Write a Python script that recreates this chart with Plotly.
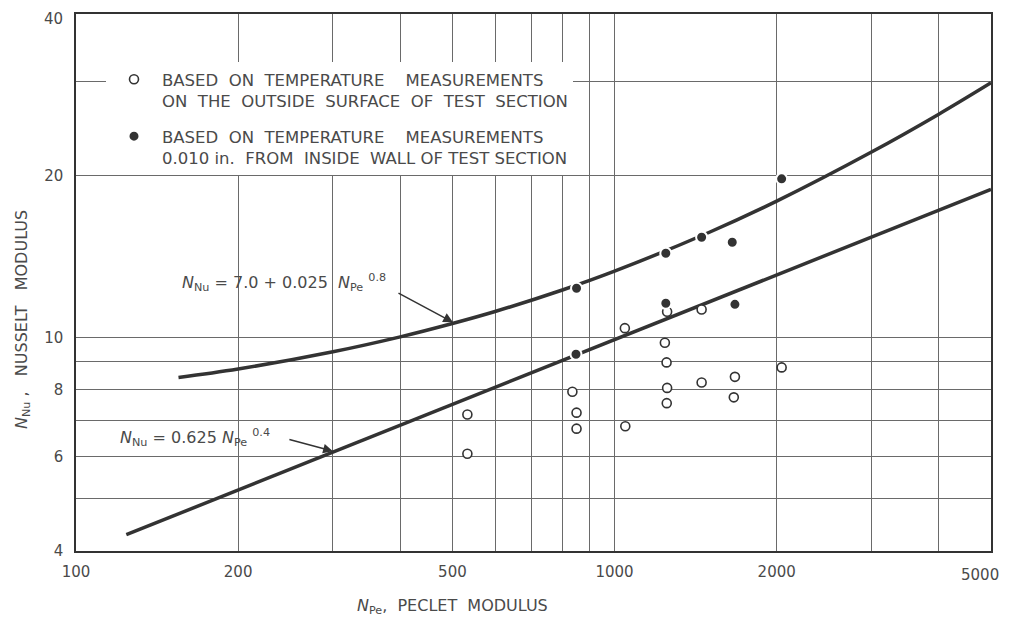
import plotly.graph_objects as go

# ---- data ----
# open circles: based on outside-surface temperature measurements
open_pe = [533, 533, 835, 850, 850, 1045, 1047, 1240, 1249, 1252, 1250, 1252, 1451, 1451, 1673, 1665, 2043]
open_nu = [7.18, 6.07, 7.92, 7.24, 6.76, 10.4, 6.83, 9.77, 8.98, 8.05, 7.54, 11.16, 11.27, 8.24, 8.44, 7.73, 8.79]

# filled circles: 0.010 in. from inside wall
fill_pe = [850, 848, 1245, 1245, 1451, 1654, 1673, 2043]
fill_nu = [12.34, 9.30, 14.34, 11.57, 15.36, 15.03, 11.52, 19.73]

# curve N_Nu = 7.0 + 0.025 N_Pe^0.8
upper_pe = [155, 200, 300, 400, 500, 600, 800, 1000, 1500, 2000, 3000, 4000, 5000]
upper_nu = [8.42, 8.73, 9.40, 10.02, 10.61, 11.17, 12.25, 13.28, 15.69, 17.93, 22.13, 26.03, 29.78]

# curve N_Nu = 0.625 N_Pe^0.4 (straight line on log-log paper)
lower_pe = [124, 1000, 5000]
lower_nu = [4.29, 9.91, 18.86]

x_grid = [100, 200, 300, 400, 500, 600, 700, 800, 900, 1000, 2000, 3000, 4000, 5000]
x_text = ["100", "200", "", "", "500", "", "", "", "", "1000", "2000", "", "", ""]
x_last_label = "5000"
y_grid = [4, 5, 6, 7, 8, 9, 10, 20, 30, 40]
y_text = ["4", "", "6", "", "8", "", "10", "20", "", ""]
y_top_label = "40"

legend_open = "BASED  ON  TEMPERATURE    MEASUREMENTS<br>ON  THE  OUTSIDE  SURFACE  OF  TEST  SECTION"
legend_fill = "BASED  ON  TEMPERATURE    MEASUREMENTS<br>0.010 in.  FROM  INSIDE  WALL OF TEST SECTION"

INK = "#333333"
TXT = "#4a4a4a"
FONT = "DejaVu Sans"

# plot area in page pixels (page has an 8px body margin)
PL, PT, PR, PB = 76, 14, 991, 551
PW, PH = PR - PL, PB - PT


def px(xp):
    return (xp - PL) / PW


def py(yp):
    return (PB - yp) / PH


fig = go.Figure()

fig.add_trace(go.Scatter(x=upper_pe, y=upper_nu, mode="lines", line=dict(color=INK, width=3.5, shape="spline"),
                         showlegend=False, hoverinfo="skip"))
fig.add_trace(go.Scatter(x=lower_pe, y=lower_nu, mode="lines", line=dict(color=INK, width=3.5),
                         showlegend=False, hoverinfo="skip"))
fig.add_trace(go.Scatter(x=open_pe, y=open_nu, mode="markers", name=legend_open, legendgroup="a",
                         marker=dict(symbol="circle", size=9, color="white", line=dict(color=INK, width=1.6))))
fig.add_trace(go.Scatter(x=fill_pe, y=fill_nu, mode="markers", name=legend_fill, legendgroup="b",
                         marker=dict(symbol="circle", size=11, color=INK, line=dict(color="white", width=2))))

axis_common = dict(type="log", showgrid=True, gridcolor="#6a6a6a", gridwidth=1, zeroline=False,
                   showline=True, linecolor="#333333", linewidth=1.5, mirror=True, ticks="",
                   automargin=False, ticklabeloverflow="allow",
                   tickfont=dict(family=FONT, size=15, color=TXT))

fig.update_xaxes(range=[2, 3.69899], tickmode="array", tickvals=x_grid, ticktext=x_text,
                 ticklabelstandoff=6, **axis_common)
fig.update_yaxes(range=[0.60206, 1.60207], tickmode="array", tickvals=y_grid, ticktext=y_text,
                 ticklabelstandoff=8, **axis_common)

annotations = [
    dict(text=x_last_label, xref="paper", yref="paper", x=1, y=0, xanchor="right", yanchor="top",
         xshift=10, yshift=-13, showarrow=False, font=dict(family=FONT, size=15, color=TXT)),
    dict(text=y_top_label, xref="paper", yref="paper", x=0, y=1, xanchor="right", yanchor="top",
         xshift=-11, yshift=6, showarrow=False, font=dict(family=FONT, size=15, color=TXT)),
    dict(text="<i>N</i><sub>Nu</sub> = 7.0 + 0.025  <i>N</i><sub>Pe</sub> <sup>0.8</sup>", xref="paper", yref="paper",
         x=px(180), y=py(282), xanchor="left", yanchor="middle", showarrow=False,
         font=dict(family=FONT, size=16, color=TXT)),
    dict(text="", x=2.700, y=1.028, xref="x", yref="y", showarrow=True, ax=-56, ay=-30,
         arrowhead=2, arrowsize=1.3, arrowwidth=1.5, arrowcolor=INK),
    dict(text="<i>N</i><sub>Nu</sub> = 0.625 <i>N</i><sub>Pe</sub> <sup>0.4</sup>", xref="paper", yref="paper",
         x=px(118), y=py(437), xanchor="left", yanchor="middle", showarrow=False,
         font=dict(family=FONT, size=16, color=TXT)),
    dict(text="", x=2.477, y=0.788, xref="x", yref="y", showarrow=True, ax=-45, ay=-12,
         arrowhead=2, arrowsize=1.3, arrowwidth=1.5, arrowcolor=INK),
    dict(text="<i>N</i><sub>Nu</sub> ,   NUSSELT   MODULUS", xref="paper", yref="paper", textangle=-90,
         x=px(22), y=py(320), xanchor="center", yanchor="middle", showarrow=False,
         font=dict(family=FONT, size=16, color=TXT)),
    dict(text="<i>N</i><sub>Pe</sub>,  PECLET  MODULUS", xref="paper", yref="paper",
         x=px(452), y=py(607), xanchor="center", yanchor="middle", showarrow=False,
         font=dict(family=FONT, size=16, color=TXT)),
]

W, H = 994, 615
fig.update_layout(
    width=W, height=H,
    margin=dict(l=PL - 8, r=W - (PR - 8), t=PT - 8, b=H - (PB - 8), autoexpand=False),
    paper_bgcolor="white", plot_bgcolor="white",
    annotations=annotations,
    legend=dict(x=px(106), y=py(62), xanchor="left", yanchor="top",
                bgcolor="white", borderwidth=0, itemwidth=46, valign="top",
                traceorder="grouped", tracegroupgap=11,
                font=dict(family=FONT, size=16.5, color=TXT)),
    showlegend=True,
)

fig.write_html("out.html")
